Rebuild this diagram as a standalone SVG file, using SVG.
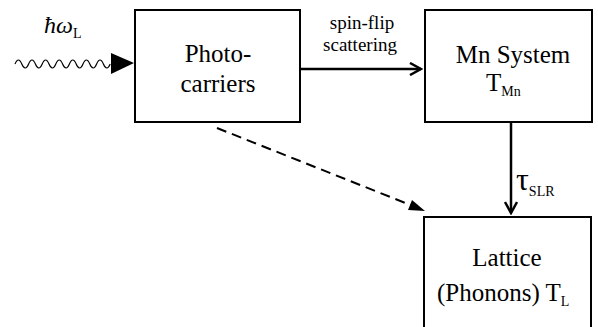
<svg xmlns="http://www.w3.org/2000/svg" width="598" height="327" viewBox="0 0 598 327">
<defs>
<style>
.box{fill:#fff;stroke:#000;stroke-width:2}
text{font-family:'Liberation Serif','Times New Roman','DejaVu Serif',serif;fill:#000}
.main{font-size:25px}
.sub{font-size:14px}
.lbl{font-size:19px}
.line{stroke:#000;stroke-width:2.5;fill:none}
</style>
<marker id="open" markerWidth="14" markerHeight="14" refX="12" refY="7" orient="auto" markerUnits="userSpaceOnUse">
<path d="M1,1 L12,7 L1,13" fill="none" stroke="#000" stroke-width="2.5"/>
</marker>
</defs>
<rect width="598" height="327" fill="#fff"/>
<g id="photon">
<path d="M15,64 q3.4,-8 6.8,0 t6.8,0 t6.8,0 t6.8,0 t6.8,0 t6.8,0 t6.8,0 t6.8,0 t6.8,0 t6.8,0 t6.8,0 t6.8,0 t6.8,0 t6.8,0" fill="none" stroke="#000" stroke-width="1.2"/>
<path d="M111,53 L134,63 L111,74 Z" fill="#000"/>
<text x="44" y="33" font-size="24" font-style="italic" font-family="Liberation Serif, DejaVu Serif, serif">ħω<tspan class="sub" font-style="normal" dy="5">L</tspan></text>
</g>
<g id="photocarriers">
<rect class="box" x="135" y="10" width="165" height="112"/>
<text class="main" x="218" y="62" text-anchor="middle" font-family="Liberation Serif, DejaVu Serif, serif">Photo-</text>
<text class="main" x="218" y="92" text-anchor="middle" font-family="Liberation Serif, DejaVu Serif, serif">carriers</text>
</g>
<g id="mnsystem">
<rect class="box" x="425" y="10" width="167" height="112"/>
<text class="main" x="513" y="63" text-anchor="middle" font-family="Liberation Serif, DejaVu Serif, serif">Mn System</text>
<text class="main" x="486" y="91" font-family="Liberation Serif, DejaVu Serif, serif">T<tspan class="sub" dy="5">Mn</tspan></text>
</g>
<g id="lattice">
<rect class="box" x="424" y="217" width="167" height="120"/>
<text class="main" x="507" y="266" text-anchor="middle" font-family="Liberation Serif, DejaVu Serif, serif">Lattice</text>
<text class="main" x="437" y="301" font-family="Liberation Serif, DejaVu Serif, serif">(Phonons) T<tspan class="sub" dy="5">L</tspan></text>
</g>
<g id="connectors">
<line class="line" x1="300" y1="69" x2="421" y2="69" marker-end="url(#open)"/>
<text class="lbl" x="362" y="29" text-anchor="middle" font-family="Liberation Serif, DejaVu Serif, serif">spin-flip</text>
<text class="lbl" x="360" y="51" text-anchor="middle" font-family="Liberation Serif, DejaVu Serif, serif">scattering</text>
<line class="line" x1="511" y1="122" x2="511" y2="213" marker-end="url(#open)"/>
<text x="516" y="190" font-size="32" font-family="Liberation Serif, DejaVu Serif, serif">τ<tspan class="sub" font-size="15" dy="6">SLR</tspan></text>
<line x1="217" y1="128" x2="418" y2="208" stroke="#000" stroke-width="2" stroke-dasharray="10,6"/>
<path d="M412,200 L425,211 L408,210 Z" fill="#000"/>
</g>
</svg>
